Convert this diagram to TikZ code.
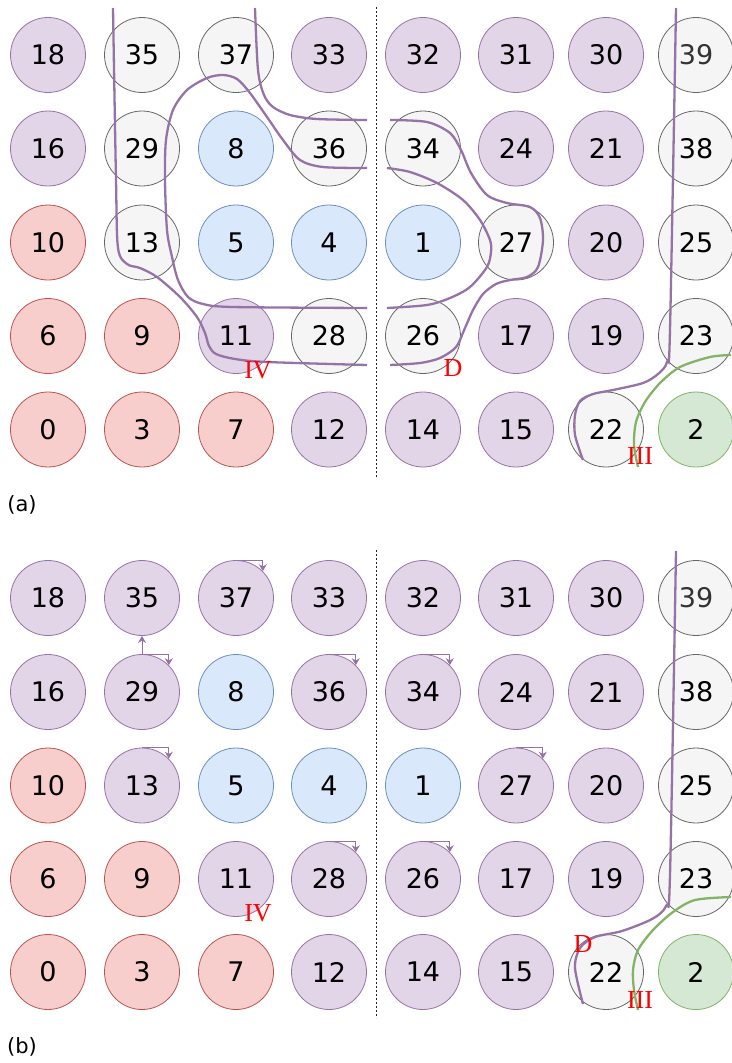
\documentclass[tikz,border=0pt]{standalone}
\usepackage{fontspec}
\setmainfont{DejaVu Sans}
\newfontfamily\tagfont{Liberation Serif}
\usepackage{tikz}
\usetikzlibrary{arrows.meta}
\definecolor{pfill}{HTML}{E1D5E7}
\definecolor{pline}{HTML}{9673A6}
\definecolor{gfill}{HTML}{F5F5F5}
\definecolor{gline}{HTML}{666666}
\definecolor{bfill}{HTML}{DAE8FC}
\definecolor{bline}{HTML}{6C8EBF}
\definecolor{rfill}{HTML}{F8CECC}
\definecolor{rline}{HTML}{B85450}
\definecolor{nfill}{HTML}{D5E8D4}
\definecolor{nline}{HTML}{82B366}
\definecolor{dimtext}{HTML}{333333}

\begin{document}
\begin{tikzpicture}[
    x=1pt, y=-1pt,
    qubit/.style={circle, draw, minimum size=75pt, inner sep=0pt, line width=0.8pt, font=\fontsize{27}{30}\selectfont},
    qpurple/.style={qubit, fill=pfill, draw=pline},
    qgray/.style={qubit, fill=gfill, draw=gline},
    qblue/.style={qubit, fill=bfill, draw=bline},
    qred/.style={qubit, fill=rfill, draw=rline},
    qgreen/.style={qubit, fill=nfill, draw=nline},
    dim/.style={text=dimtext},
    cut/.style={draw=pline, line width=2.3pt},
    cutg/.style={draw=nline, line width=2.3pt},
    tag/.style={text=red, inner sep=0pt, font=\tagfont\fontsize{26}{26}\selectfont},
    sub/.style={inner sep=0pt, font=\fontsize{21}{23}\selectfont},
    sep/.style={draw=black!85, line width=0.8pt, dash pattern=on 2pt off 2pt},
    arrow/.style={-{Stealth[length=7pt,width=8pt]}, draw=pline, line width=0.9pt}
]
\useasboundingbox (0,0) rectangle (731,1063);

% (a)
\node[qpurple] (a18) at (48,55) {18};
\node[qgray] (a35) at (142,55) {35};
\node[qgray] (a37) at (236,55) {37};
\node[qpurple] (a33) at (329,55) {33};
\node[qpurple] (a32) at (423,55) {32};
\node[qpurple] (a31) at (516,55) {31};
\node[qpurple] (a30) at (606,55) {30};
\node[qgray, dim] (a39) at (696,55) {39};

\node[qpurple] (a16) at (48,148.5) {16};
\node[qgray] (a29) at (142,148.5) {29};
\node[qblue] (a8) at (236,148.5) {8};
\node[qgray] (a36) at (329,148.5) {36};
\node[qgray] (a34) at (423,148.5) {34};
\node[qpurple] (a24) at (516,148.5) {24};
\node[qpurple] (a21) at (606,148.5) {21};
\node[qgray] (a38) at (696,148.5) {38};

\node[qred] (a10) at (48,242.5) {10};
\node[qgray] (a13) at (142,242.5) {13};
\node[qblue] (a5) at (236,242.5) {5};
\node[qblue] (a4) at (329,242.5) {4};
\node[qblue] (a1) at (423,242.5) {1};
\node[qgray] (a27) at (516,242.5) {27};
\node[qpurple] (a20) at (606,242.5) {20};
\node[qgray] (a25) at (696,242.5) {25};

\node[qred] (a6) at (48,336) {6};
\node[qred] (a9) at (142,336) {9};
\node[qpurple] (a11) at (236,336) {11};
\node[qgray] (a28) at (329,336) {28};
\node[qgray] (a26) at (423,336) {26};
\node[qpurple] (a17) at (516,336) {17};
\node[qpurple] (a19) at (606,336) {19};
\node[qgray] (a23) at (696,336) {23};

\node[qred] (a0) at (48,429.5) {0};
\node[qred] (a3) at (142,429.5) {3};
\node[qred] (a7) at (236,429.5) {7};
\node[qpurple] (a12) at (329,429.5) {12};
\node[qpurple] (a14) at (423,429.5) {14};
\node[qpurple] (a15) at (516,429.5) {15};
\node[qgray] (a22) at (606,429.5) {22};
\node[qgreen] (a2) at (696,429.5) {2};

\draw[sep] (376,7) -- (376,477);

\draw[cut] plot[smooth, tension=0.5] coordinates {(113,8) (116,180) (118,248) (127,264) (140,268) (157,277) (180,297) (197,317) (205,333) (209,346) (216,354) (235,359) (267,362) (367,365)};
\draw[cut] plot[smooth, tension=0.5] coordinates {(367,168) (323,167) (300,160) (283,140) (267,117) (250,93) (237,79) (223,75) (207,78) (187,90) (173,110) (166,140) (165,180) (167,230) (172,257) (178,280) (188,297) (203,304) (233,307) (367,308)};
\draw[cut] plot[smooth, tension=0.5] coordinates {(255,8) (258,70) (264,95) (273,107) (290,115) (317,119) (367,120)};
\draw[cut] plot[smooth, tension=0.5] coordinates {(390,120) (427,122) (450,133) (461,150) (471,173) (487,195) (507,203) (530,207) (540,218) (543,240) (538,267) (527,277) (510,280) (496,284) (483,294) (473,310) (465,328) (456,347) (440,358) (420,363) (390,365)};
\draw[cut] plot[smooth, tension=0.5] coordinates {(387,168) (410,172) (437,183) (463,200) (480,220) (490,240) (491,252) (487,267) (470,287) (450,298) (427,305) (387,308)};
\draw[cut] plot[smooth, tension=0.5] coordinates {(676,8) (670,330) (667,362) (658,374) (643,383) (613,390) (593,394) (580,401) (575,415) (575,435) (583,460)};
\draw[cutg] plot[smooth, tension=0.5] coordinates {(731,355) (710,357) (680,367) (660,383) (645,402) (636,422) (634,445) (638,467)};

\node[tag] (a-iv) at (258,370) {IV};
\node[tag] (a-d) at (453,368) {D};
\node[tag] (a-iii) at (640,456) {III};
\node[sub] (a-cap) at (22,505) {(a)};

% (b)
\node[qpurple] (b18) at (48,598) {18};
\node[qpurple] (b35) at (142,598) {35};
\node[qpurple] (b37) at (236,598) {37};
\node[qpurple] (b33) at (329,598) {33};
\node[qpurple] (b32) at (423,598) {32};
\node[qpurple] (b31) at (516,598) {31};
\node[qpurple] (b30) at (606,598) {30};
\node[qgray, dim] (b39) at (696,598) {39};

\node[qpurple] (b16) at (48,692) {16};
\node[qpurple] (b29) at (142,692) {29};
\node[qblue] (b8) at (236,692) {8};
\node[qpurple] (b36) at (329,692) {36};
\node[qpurple] (b34) at (423,692) {34};
\node[qpurple] (b24) at (516,692) {24};
\node[qpurple] (b21) at (606,692) {21};
\node[qgray] (b38) at (696,692) {38};

\node[qred] (b10) at (48,785.5) {10};
\node[qpurple] (b13) at (142,785.5) {13};
\node[qblue] (b5) at (236,785.5) {5};
\node[qblue] (b4) at (329,785.5) {4};
\node[qblue] (b1) at (423,785.5) {1};
\node[qpurple] (b27) at (516,785.5) {27};
\node[qpurple] (b20) at (606,785.5) {20};
\node[qgray] (b25) at (696,785.5) {25};

\node[qred] (b6) at (48,879) {6};
\node[qred] (b9) at (142,879) {9};
\node[qpurple] (b11) at (236,879) {11};
\node[qpurple] (b28) at (329,879) {28};
\node[qpurple] (b26) at (423,879) {26};
\node[qpurple] (b17) at (516,879) {17};
\node[qpurple] (b19) at (606,879) {19};
\node[qgray] (b23) at (696,879) {23};

\node[qred] (b0) at (48,972) {0};
\node[qred] (b3) at (142,972) {3};
\node[qred] (b7) at (236,972) {7};
\node[qpurple] (b12) at (329,972) {12};
\node[qpurple] (b14) at (423,972) {14};
\node[qpurple] (b15) at (516,972) {15};
\node[qgray] (b22) at (606,972) {22};
\node[qgreen] (b2) at (696,972) {2};

\draw[sep] (376,550) -- (376,1018);

\draw[arrow] (b29) -- (b35);
\draw[arrow] (b37.north) -| (b37.north east);
\draw[arrow] (b29.north) -| (b29.north east);
\draw[arrow] (b36.north) -| (b36.north east);
\draw[arrow] (b34.north) -| (b34.north east);
\draw[arrow] (b13.north) -| (b13.north east);
\draw[arrow] (b27.north) -| (b27.north east);
\draw[arrow] (b28.north) -| (b28.north east);
\draw[arrow] (b26.north) -| (b26.north east);

\draw[cut] plot[smooth, tension=0.5] coordinates {(676,551) (670,875) (666,906) (652,919) (622,931) (595,937) (580,948) (575,968) (583,1004)};
\draw[cutg] plot[smooth, tension=0.5] coordinates {(731,897) (695,900) (673,912) (653,930) (638,950) (633,970) (634,990) (638,1010)};

\node[tag] (b-iv) at (258,913) {IV};
\node[tag] (b-d) at (583,944) {D};
\node[tag] (b-iii) at (640,1000) {III};
\node[sub] (b-cap) at (22,1047) {(b)};
\end{tikzpicture}
\end{document}
